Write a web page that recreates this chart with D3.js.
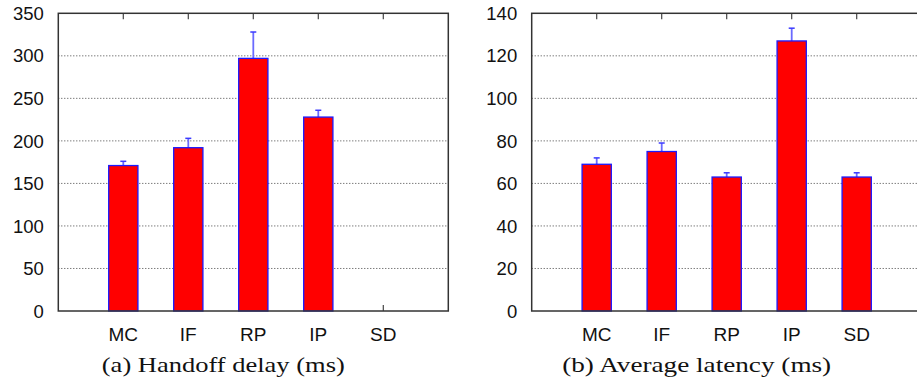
<!DOCTYPE html>
<html><head><meta charset="utf-8">
<script src="https://cdn.jsdelivr.net/npm/d3@7"></script>
<style>body{margin:0;background:#fff}svg{display:block}</style>
</head><body>
<svg id="c" width="917" height="381"></svg>
<script>
const categories = ["MC","IF","RP","IP","SD"];
const handoffValues = [171, 192, 297, 228, 0];
const handoffErrors = [5, 11, 31, 8, 0];
const handoffTicks = [0,50,100,150,200,250,300,350];
const latencyValues = [69, 75, 63, 127, 63];
const latencyErrors = [3, 4, 2, 6, 2];
const latencyTicks = [0,20,40,60,80,100,120,140];
const captions = ["(a) Handoff delay (ms)", "(b) Average latency (ms)"];

const svg = d3.select("#c");
const plotTop = 13.3, plotBottom = 311;

function panel(opts){
  const g = svg.append("g");
  const x = d3.scalePoint().domain(categories).range([opts.left, opts.right]).padding(1);
  const y = d3.scaleLinear().domain([0, opts.max]).range([plotBottom, plotTop]);
  const bw = x.step()*0.45;
  g.selectAll("line.grid").data(opts.ticks.filter(t=>t>0 && t<opts.max)).join("line")
    .attr("x1", opts.left).attr("x2", opts.right)
    .attr("y1", d=>y(d)).attr("y2", d=>y(d))
    .attr("stroke", "#444").attr("stroke-width", 1).attr("stroke-dasharray", "1,2");
  categories.forEach(c=>{
    g.append("line").attr("x1", x(c)).attr("x2", x(c)).attr("y1", plotTop).attr("y2", plotTop+6)
      .attr("stroke","#444").attr("stroke-width",1.2);
    g.append("line").attr("x1", x(c)).attr("x2", x(c)).attr("y1", plotBottom).attr("y2", plotBottom-6)
      .attr("stroke","#444").attr("stroke-width",1.2);
  });
  const data = categories.map((c,i)=>({c, v:opts.values[i], e:opts.errors[i]}));
  const eb = g.selectAll("g.eb").data(data.filter(d=>d.e>0)).join("g");
  eb.append("line").attr("x1", d=>x(d.c)).attr("x2", d=>x(d.c))
    .attr("y1", d=>y(d.v)).attr("y2", d=>y(d.v+d.e))
    .attr("stroke","#6a6aff").attr("stroke-width",1.8);
  eb.append("line").attr("x1", d=>x(d.c)-3).attr("x2", d=>x(d.c)+3)
    .attr("y1", d=>y(d.v+d.e)).attr("y2", d=>y(d.v+d.e))
    .attr("stroke","#3a3aff").attr("stroke-width",1.5);
  g.selectAll("rect.bar").data(data).join("rect")
    .attr("x", d=>x(d.c)-bw/2).attr("width", bw)
    .attr("y", d=>y(d.v)).attr("height", d=>plotBottom-y(d.v))
    .attr("fill","#ff0000").attr("stroke","#1a1aff").attr("stroke-width",1.3);
  g.append("rect").attr("x", opts.left).attr("y", plotTop)
    .attr("width", opts.right-opts.left).attr("height", plotBottom-plotTop)
    .attr("fill","none").attr("stroke","#333").attr("stroke-width",1.5);
  g.selectAll("text.yl").data(opts.ticks).join("text")
    .attr("x", opts.left-14.5).attr("y", d=>y(d)).attr("dy","0.36em")
    .attr("text-anchor","end").attr("font-family","Liberation Sans, Arial, sans-serif")
    .attr("font-size", 18.5).attr("fill","#111").text(d=>d);
  g.selectAll("text.xl").data(categories).join("text")
    .attr("x", d=>x(d)).attr("y", 341)
    .attr("text-anchor","middle").attr("font-family","Liberation Sans, Arial, sans-serif")
    .attr("font-size", 19).attr("fill","#111").text(d=>d);
  g.append("text").attr("x", opts.capX).attr("y", 372).attr("text-anchor","middle")
    .attr("font-family","Liberation Serif, DejaVu Serif, serif").attr("font-size", 22)
    .attr("textLength", opts.capW).attr("lengthAdjust","spacingAndGlyphs")
    .attr("fill","#111").text(opts.caption);
}

panel({left:58.3, right:448.3, max:350, ticks:handoffTicks, values:handoffValues, errors:handoffErrors, caption:captions[0], capX:223.3, capW:243});
panel({left:531.7, right:921.7, max:140, ticks:latencyTicks, values:latencyValues, errors:latencyErrors, caption:captions[1], capX:696.7, capW:269});
</script>
</body></html>
